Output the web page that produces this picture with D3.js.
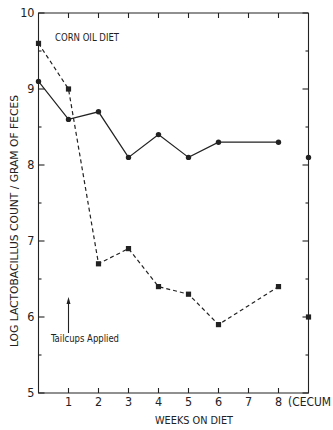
<!DOCTYPE html>
<html>
<head>
<meta charset="utf-8">
<script src="https://cdn.jsdelivr.net/npm/d3@7"></script>
<style>
  body { margin: 0; background: #fff; }
  svg text { font-family: "Liberation Sans Narrow", "DejaVu Sans Condensed", sans-serif; fill: #222; }
</style>
</head>
<body>
<svg id="chart" width="333" height="430"></svg>
<script>
// weeks on diet; the last slot (9) is the cecum sample on the right border
const weeks = [0, 1, 2, 3, 4, 5, 6, 8, 9];
const solidValues = [9.1, 8.6, 8.7, 8.1, 8.4, 8.1, 8.3, 8.3, 8.1];
const dashedValues = [9.6, 9.0, 6.7, 6.9, 6.4, 6.3, 5.9, 6.4, 6.0];
const xTickLabels = ["1", "2", "3", "4", "5", "6", "7", "8"];
const yTickLabels = ["5", "6", "7", "8", "9", "10"];

const svg = d3.select("#chart");
const dims = { left: 38.5, right: 308.5, top: 13, bottom: 393 };

const x = d3.scaleLinear().domain([0, 9]).range([dims.left, dims.right]);
const y = d3.scaleLinear().domain([5, 10]).range([dims.bottom, dims.top]);
const ink = "#222";

// frame: left, bottom, top, right
const gFrame = svg.append("g").attr("stroke", ink).attr("fill", "none").attr("stroke-width", 1.1);
gFrame.append("path").attr("d", `M${dims.right},${dims.top}H${dims.left}V${dims.bottom}H${dims.right}V${dims.top}`);

// x ticks on bottom (inward) and top
const xt = xTickLabels.map(Number);
gFrame.selectAll(".xb").data(xt).join("line").attr("class", "xb")
  .attr("x1", (d) => x(d)).attr("x2", (d) => x(d))
  .attr("y1", dims.bottom).attr("y2", dims.bottom - 5);
gFrame.selectAll(".xt").data(xt).join("line").attr("class", "xt")
  .attr("x1", (d) => x(d)).attr("x2", (d) => x(d))
  .attr("y1", dims.top).attr("y2", dims.top + 5);

// y ticks, majors and halves, on both sides
const yt = d3.range(5, 10.01, 0.5);
gFrame.selectAll(".yl").data(yt).join("line").attr("class", "yl")
  .attr("x1", dims.left).attr("x2", (d) => dims.left + (d % 1 === 0 ? 6 : 3))
  .attr("y1", (d) => y(d)).attr("y2", (d) => y(d));
gFrame.selectAll(".yr").data(yt).join("line").attr("class", "yr")
  .attr("x1", dims.right).attr("x2", (d) => dims.right - (d % 1 === 0 ? 6 : 3))
  .attr("y1", (d) => y(d)).attr("y2", (d) => y(d));

// tick labels
svg.append("g").attr("class", "y-labels").attr("font-size", 12.5).attr("text-anchor", "end")
  .selectAll("text").data(yTickLabels).join("text")
  .attr("x", dims.left - 4).attr("y", (d) => y(+d)).attr("dy", "0.35em")
  .text((d) => d);
svg.append("g").attr("class", "x-labels").attr("font-size", 12.5).attr("text-anchor", "middle")
  .selectAll("text").data(xTickLabels).join("text")
  .attr("x", (d) => x(+d)).attr("y", 406)
  .text((d) => d);
svg.append("text").attr("x", 288).attr("y", 406).attr("font-size", 12)
  .attr("textLength", 43).attr("lengthAdjust", "spacingAndGlyphs").text("(CECUM");

// axis titles
svg.append("text").attr("x", 155).attr("y", 424).attr("font-size", 11)
  .attr("textLength", 78).attr("lengthAdjust", "spacingAndGlyphs").text("WEEKS ON DIET");
svg.append("text").attr("transform", "translate(18,221) rotate(-90)")
  .attr("text-anchor", "middle").attr("font-size", 11)
  .attr("textLength", 252).attr("lengthAdjust", "spacingAndGlyphs")
  .text("LOG LACTOBACILLUS  COUNT / GRAM OF FECES");
svg.append("text").attr("x", 55).attr("y", 41).attr("font-size", 11)
  .attr("textLength", 64).attr("lengthAdjust", "spacingAndGlyphs").text("CORN OIL DIET");

// annotation arrow
svg.append("line").attr("x1", x(1)).attr("x2", x(1)).attr("y1", 333).attr("y2", 300)
  .attr("stroke", ink).attr("stroke-width", 1.1);
svg.append("path").attr("d", `M${x(1)},297l-2,7h4z`).attr("fill", ink);
svg.append("text").attr("x", 51).attr("y", 342).attr("font-size", 10.5)
  .attr("textLength", 68).attr("lengthAdjust", "spacingAndGlyphs").text("Tailcups Applied");

// series
const line = d3.line().x((d) => x(d[0])).y((d) => y(d[1]));
const solid = weeks.slice(0, 8).map((w, i) => [w, solidValues[i]]);
const dashed = weeks.slice(0, 8).map((w, i) => [w, dashedValues[i]]);

svg.append("path").datum(solid).attr("d", line).attr("fill", "none")
  .attr("stroke", ink).attr("stroke-width", 1.2);
svg.append("path").datum(dashed).attr("d", line).attr("fill", "none")
  .attr("stroke", ink).attr("stroke-width", 1.2).attr("stroke-dasharray", "4,3");

svg.append("g").selectAll("circle")
  .data(weeks.map((w, i) => [w, solidValues[i]])).join("circle")
  .attr("cx", (d) => x(d[0])).attr("cy", (d) => y(d[1])).attr("r", 2.7).attr("fill", ink);
svg.append("g").selectAll("rect")
  .data(weeks.map((w, i) => [w, dashedValues[i]])).join("rect")
  .attr("x", (d) => x(d[0]) - 2.6).attr("y", (d) => y(d[1]) - 2.6)
  .attr("width", 5.2).attr("height", 5.2).attr("fill", ink);
</script>
</body>
</html>
